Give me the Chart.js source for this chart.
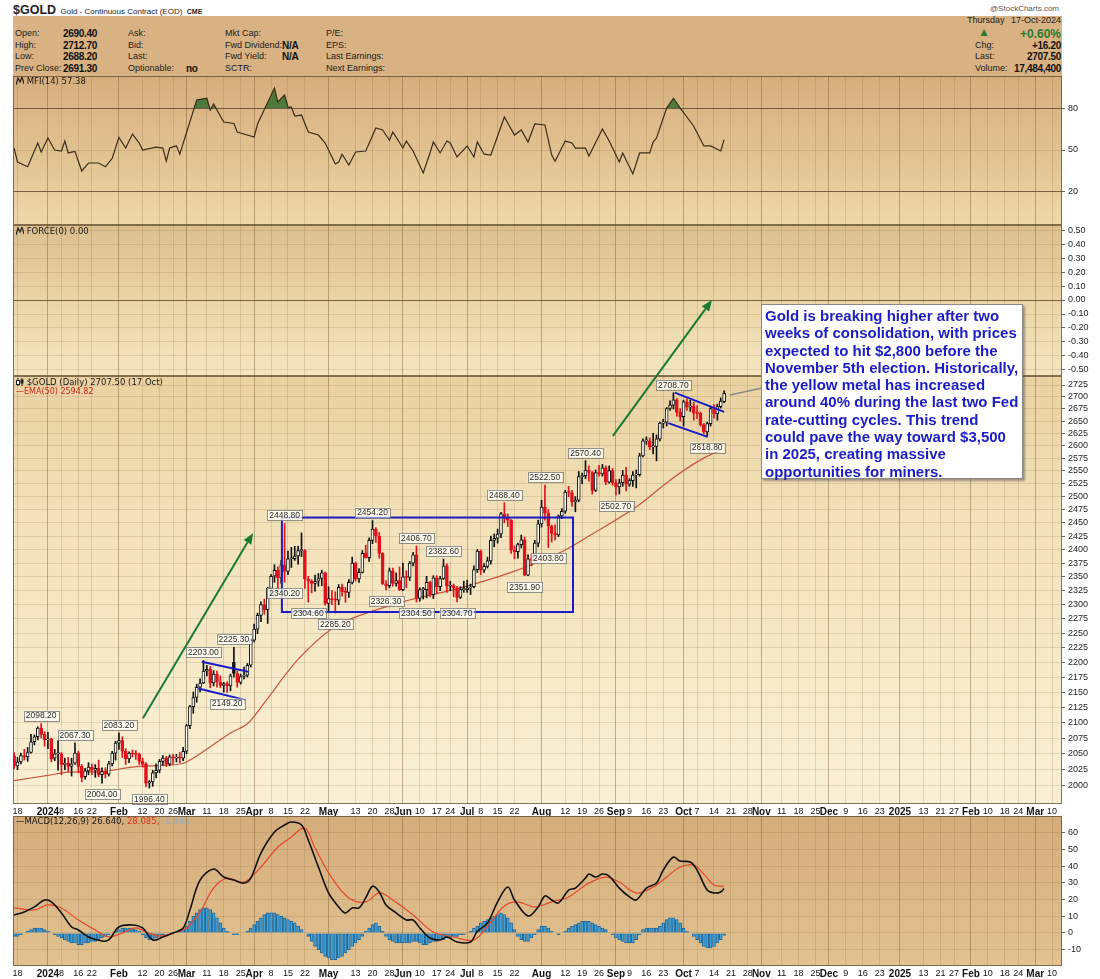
<!DOCTYPE html>
<html>
<head>
<meta charset="utf-8">
<title>$GOLD Daily</title>
<script src="https://cdn.jsdelivr.net/npm/chart.js@4.4.1/dist/chart.umd.min.js"></script>
<style>
  html,body{margin:0;padding:0;background:#fff;}
  body{position:relative;width:1100px;height:979px;overflow:hidden;font-family:Arial,"Liberation Sans",sans-serif;color:#222;}
  canvas{position:absolute;left:0;}
  .t{position:absolute;white-space:nowrap;line-height:11px;z-index:3;}
  .hl{font-size:9px;color:#222;}
  .hv{font-size:10px;font-weight:bold;color:#111;letter-spacing:-0.3px;}
  .pl{font-family:"DejaVu Sans",Verdana,sans-serif;font-size:8.5px;color:#1a1a1a;}
  #hdr{position:absolute;left:13px;top:16px;width:1049px;height:60px;background:#d8b283;}
  #note{position:absolute;left:761px;top:304px;width:254px;height:169px;padding:2px 3px;background:#fff;border:1px solid #888;
        box-shadow:2px 2px 2px rgba(60,60,60,.45);font:bold 15px Arial,"Liberation Sans",sans-serif;line-height:17.3px;color:#1c1cc4;z-index:5;white-space:nowrap;}
</style>
</head>
<body>

<!-- title + header block -->
<div class="t" style="left:13px;top:2px;line-height:13px;"><span style="font:bold 12.5px Arial;">$GOLD</span> <span style="font-size:8px;">Gold - Continuous Contract (EOD)</span> <span style="font:bold 7px Arial;">CME</span></div>
<div class="t" style="left:990px;top:3px;font-size:8px;color:#555;">@StockCharts.com</div>
<div id="hdr"></div>
<div class="t hl" style="left:15px;top:28px;">Open:</div><div class="t hv" style="left:63px;top:28px;">2690.40</div>
<div class="t hl" style="left:15px;top:40px;">High:</div><div class="t hv" style="left:63px;top:40px;">2712.70</div>
<div class="t hl" style="left:15px;top:51px;">Low:</div><div class="t hv" style="left:63px;top:51px;">2688.20</div>
<div class="t hl" style="left:15px;top:63px;">Prev Close:</div><div class="t hv" style="left:63px;top:63px;">2691.30</div>
<div class="t hl" style="left:128px;top:28px;">Ask:</div>
<div class="t hl" style="left:128px;top:40px;">Bid:</div>
<div class="t hl" style="left:128px;top:51px;">Last:</div>
<div class="t hl" style="left:128px;top:63px;">Optionable:</div><div class="t hv" style="left:186px;top:63px;">no</div>
<div class="t hl" style="left:225px;top:28px;">Mkt Cap:</div>
<div class="t hl" style="left:225px;top:40px;">Fwd Dividend:</div><div class="t hv" style="left:282px;top:40px;">N/A</div>
<div class="t hl" style="left:225px;top:51px;">Fwd Yield:</div><div class="t hv" style="left:282px;top:51px;">N/A</div>
<div class="t hl" style="left:225px;top:63px;">SCTR:</div>
<div class="t hl" style="left:326px;top:28px;">P/E:</div>
<div class="t hl" style="left:326px;top:40px;">EPS:</div>
<div class="t hl" style="left:326px;top:51px;">Last Earnings:</div>
<div class="t hl" style="left:326px;top:63px;">Next Earnings:</div>
<div class="t hl" style="left:967px;top:15px;">Thursday</div><div class="t hl" style="right:39px;top:15px;">17-Oct-2024</div>
<div class="t" style="left:978px;top:27px;font-size:12px;color:#2f7a2f;">&#9650;</div>
<div class="t" style="right:39px;top:27px;font:bold 12px Arial;color:#2f7a2f;">+0.60%</div>
<div class="t hl" style="left:975px;top:40px;">Chg:</div><div class="t hv" style="right:39px;top:40px;">+16.20</div>
<div class="t hl" style="left:975px;top:51px;">Last:</div><div class="t hv" style="right:39px;top:51px;">2707.50</div>
<div class="t hl" style="left:975px;top:63px;">Volume:</div><div class="t hv" style="right:39px;top:63px;">17,484,400</div>

<!-- panel legends -->
<div class="t pl" style="left:16px;top:76px;"><svg width="8" height="8" style="vertical-align:-1px"><polyline points="0,8 2,1 4,5 6,0 8,7" fill="none" stroke="#222" stroke-width="1.2"/></svg> MFI(14) 57.38</div>
<div class="t pl" style="left:16px;top:226px;"><svg width="8" height="8" style="vertical-align:-1px"><polyline points="0,8 2,1 4,5 6,0 8,7" fill="none" stroke="#222" stroke-width="1.2"/></svg> FORCE(0) 0.00</div>
<div class="t pl" style="left:16px;top:377px;"><svg width="8" height="8" style="vertical-align:-1px"><line x1="2" y1="0" x2="2" y2="8" stroke="#222"/><rect x="0.5" y="2.5" width="3" height="4" fill="#fff" stroke="#222"/><line x1="6" y1="0" x2="6" y2="8" stroke="#222"/><rect x="4.5" y="1.5" width="3" height="4" fill="#222"/></svg> $GOLD (Daily) 2707.50 (17 Oct)</div>
<div class="t pl" style="left:16px;top:386px;color:#c8281e;font-size:8px;">&#8212;EMA(50) 2594.82</div>
<div class="t pl" style="left:16px;top:816px;">&#8212;MACD(12,26,9) 26.640, <span style="color:#d8321e;">28.085,</span> <span style="color:#8fb0bf;">-1.445</span></div>

<div id="note">Gold is breaking higher after two<br>weeks of consolidation, with prices<br>expected to hit $2,800 before the<br>November 5th election. Historically,<br>the yellow metal has increased<br>around 40% during the last two Fed<br>rate-cutting cycles. This trend<br>could pave the way toward $3,500<br>in 2025, creating massive<br>opportunities for miners.</div>

<canvas id="cMfi" width="1100" height="149" style="top:76px;z-index:1;"></canvas>
<canvas id="cForce" width="1100" height="151" style="top:225px;z-index:1;"></canvas>
<canvas id="cPrice" width="1100" height="591" style="top:225px;z-index:2;"></canvas>
<canvas id="cMacd" width="1100" height="163" style="top:816px;z-index:1;"></canvas>

<script>
// ═══════════════ 数据 ═══════════════
// trading calendar: weekdays from 15 Dec 2023 to 14 Mar 2025, minus these closures
var holidays = ['2023-12-25','2024-01-01','2024-01-15','2024-02-19','2024-03-29','2024-05-27','2024-06-19',
  '2024-07-04','2024-09-02','2024-11-28','2024-12-25','2025-01-01','2025-01-20','2025-02-17'];

// x-axis labels (date of the tick, text)
var tickDates = ['2023-12-18','2024-01-02','2024-01-08','2024-01-16','2024-01-22','2024-02-01','2024-02-12','2024-02-20','2024-02-26',
  '2024-03-01','2024-03-11','2024-03-18','2024-03-25','2024-04-01','2024-04-08','2024-04-15','2024-04-22','2024-05-01','2024-05-13',
  '2024-05-20','2024-05-28','2024-06-03','2024-06-10','2024-06-17','2024-06-24','2024-07-01','2024-07-08','2024-07-15','2024-07-22',
  '2024-08-01','2024-08-12','2024-08-19','2024-08-26','2024-09-03','2024-09-09','2024-09-16','2024-09-23','2024-10-01','2024-10-07',
  '2024-10-14','2024-10-21','2024-10-28','2024-11-01','2024-11-11','2024-11-18','2024-11-25','2024-12-02','2024-12-09','2024-12-16',
  '2024-12-23','2025-01-02','2025-01-13','2025-01-21','2025-01-27','2025-02-03','2025-02-10','2025-02-18','2025-02-24','2025-03-03','2025-03-10'];
var tickText = ['18','2024','8','16','22','Feb','12','20','26','Mar','11','18','25','Apr','8','15','22','May','13','20','28',
  'Jun','10','17','24','Jul','8','15','22','Aug','12','19','26','Sep','9','16','23','Oct','7','14','21','28','Nov','11','18','25',
  'Dec','9','16','23','2025','13','21','27','Feb','10','18','24','Mar','10'];

// right-axis ticks
var priceTicks = [2000,2025,2050,2075,2100,2125,2150,2175,2200,2225,2250,2275,2300,2325,2350,2375,2400,2425,2450,2475,2500,2525,2550,2575,2600,2625,2650,2675,2700,2725];
var mfiTicks = [20,50,80];
var forceTicks = [-0.5,-0.4,-0.3,-0.2,-0.1,0,0.1,0.2,0.3,0.4,0.5];
var macdTicks = [-10,0,10,20,30,40,50,60];

// daily [open, high, low, close], day 0 = 15 Dec 2023, last = 17 Oct 2024
var ohlc = [
  [2047,2052,2027,2031],[2031,2044,2025,2037],[2037,2051,2034,2047],[2047,2057,2040,2045],[2045,2060,2038,2052],
  [2052,2081,2051,2069],[2069,2080,2064,2077],[2077,2093,2072,2091],[2091,2098.2,2075,2081],[2081,2085,2062,2072],
  // Jan
  [2072,2084,2058,2073],[2073,2075,2037,2042],[2043,2057,2039,2050],[2050,2071,2024,2050],[2050,2052,2017,2033],
  [2033,2043,2025,2035],[2035,2044,2022,2030],[2030,2043,2015,2034],[2035,2067.3,2033,2051],[2051,2054,2020,2030],
  [2030,2033,2006,2013],[2014,2027,2010,2023],[2023,2036,2017,2029],[2029,2034,2017,2024],[2024,2033,2013,2027],
  [2027,2040,2014,2017],[2017,2028,2004,2022],[2022,2028,2012,2018],[2018,2038,2015,2034],[2034,2054,2031,2051],
  [2051,2070,2040,2067],
  // Feb
  [2067,2083.2,2057,2071],[2071,2077,2044,2054],[2054,2058,2033,2042],[2042,2053,2036,2051],[2051,2056,2045,2050],
  [2050,2055,2041,2049],[2049,2051,2033,2038],[2038,2043,2029,2033],[2034,2036,1998,2004],[2004,2008,1996.4,2006],
  [2006,2024,1999,2020],[2020,2034,2012,2024],[2024,2041,2020,2038],[2038,2047,2032,2043],[2043,2046,2030,2034],
  [2034,2048,2031,2045],[2045,2049,2034,2043],[2043,2049,2037,2044],[2044,2052,2036,2043],[2043,2060,2039,2054],
  // Mar
  [2054,2097,2050,2095],[2095,2128,2090,2126],[2126,2150,2115,2141],[2141,2163,2133,2158],[2158,2172,2150,2165],
  [2165,2203,2164,2185],[2185,2195,2177,2188],[2188,2193,2157,2165],[2165,2186,2160,2180],[2180,2185,2158,2167],
  [2167,2177,2157,2161],[2161,2166,2150,2164],[2164,2167,2149.2,2160],[2160,2180,2152,2177],[2200,2225.3,2175,2181],
  [2181,2185,2158,2166],[2166,2180,2163,2176],[2176,2192,2172,2178],[2178,2198,2175,2195],[2195,2240,2192,2238],
  // Apr
  [2238,2266,2235,2257],[2257,2285,2249,2281],[2281,2305,2270,2300],[2300,2310,2283,2291],[2291,2331,2267,2329],
  [2329,2354,2317,2351],[2351,2372,2340,2362],[2362,2368,2323,2348],[2348,2380,2338,2372],[2372,2448.8,2340.2,2360],
  [2360,2397,2354,2383],[2383,2404,2367,2383],[2383,2406,2380,2388],[2388,2406,2373,2398],[2398,2431,2387,2398],
  [2398,2400,2329,2346],[2346,2351,2304.6,2342],[2342,2345,2321,2338],[2338,2353,2324,2342],[2342,2356,2333,2347],
  [2347,2362,2334,2357],[2357,2359,2299,2302],
  // May
  [2302,2332,2286,2311],[2311,2325,2300,2309],[2309,2323,2285.2,2308],[2308,2336,2300,2331],[2331,2337,2315,2323],
  [2323,2331,2304,2322],[2322,2345,2313,2340],[2340,2386,2337,2375],[2375,2377,2342,2346],[2346,2365,2340,2358],
  [2358,2398,2357,2393],[2393,2408,2384,2385],[2385,2422,2378,2417],[2417,2454.2,2411,2438],[2438,2441,2413,2425],
  [2425,2432,2384,2393],[2393,2394,2336,2337],[2337,2343,2326.3,2334],[2334,2366,2330,2361],[2361,2366,2333,2338],
  [2338,2357,2333,2343],[2343,2368,2325,2327],
  // Jun
  [2327,2375,2325,2350],[2350,2361,2330,2349],[2349,2378,2343,2375],[2375,2395,2370,2390],[2390,2406.7,2304.5,2311],
  [2311,2330,2306,2327],[2327,2331,2310,2327],[2327,2351,2312,2340],[2340,2342,2314,2318],[2318,2352,2311,2348],
  [2348,2352,2320,2332],[2332,2351,2325,2347],[2347,2382.6,2345,2370],[2370,2374,2322,2333],[2333,2342,2325,2334],
  [2334,2337,2314,2330],[2330,2333,2304.7,2313],[2313,2332,2311,2327],[2327,2342,2322,2327],
  // Jul
  [2327,2344,2322,2330],[2330,2337,2318,2332],[2332,2370,2330,2363],[2363,2400,2358,2397],[2397,2399,2354,2362],
  [2362,2374,2358,2369],[2369,2386,2366,2379],[2379,2425,2373,2417],[2417,2429,2405,2421],[2421,2438,2412,2429],
  [2429,2470,2422,2467],[2467,2488.4,2450,2459],[2459,2467,2443,2455],[2455,2456,2393,2399],[2399,2407,2383,2396],
  [2396,2412,2384,2409],[2409,2427,2403,2418],[2418,2423,2351.9,2353],[2353,2390,2352,2383],[2383,2390,2370,2380],
  [2380,2417,2379,2412],[2412,2455,2405,2448],
  // Aug
  [2448,2493,2442,2480],[2480,2522.5,2455,2469],[2469,2475,2403.8,2444],[2444,2446,2414,2430],[2430,2446,2418,2427],
  [2427,2465,2424,2463],[2463,2477,2458,2472],[2472,2512,2468,2509],[2509,2520,2500,2508],[2508,2512,2481,2490],
  [2490,2500,2471,2493],[2493,2549,2490,2539],[2539,2546,2525,2541],[2541,2570.4,2535,2552],[2552,2560,2530,2547],
  [2547,2549,2505,2512],[2512,2552,2510,2547],[2547,2561,2540,2544],[2544,2563,2540,2556],[2556,2560,2523,2528],
  [2528,2560,2526,2551],[2551,2555,2522,2527],
  // Sep
  [2527,2533,2502.7,2519],[2519,2534,2505,2527],[2527,2551,2520,2542],[2542,2557,2511,2524],[2524,2535,2520,2531],
  [2531,2549,2520,2542],[2542,2552,2517,2543],[2543,2585,2540,2580],[2580,2614,2578,2610],[2610,2618,2603,2610],
  [2610,2616,2592,2598],[2598,2625,2584,2599],[2599,2622,2570,2614],[2614,2648,2610,2646],[2646,2654,2636,2648],
  [2648,2678,2640,2676],[2676,2692,2672,2683],[2683,2708.7,2675,2694],[2694,2697,2660,2668],[2668,2676,2650,2659],
  // Oct
  [2659,2693,2640,2690],[2690,2696,2672,2679],[2679,2693,2670,2681],[2681,2689,2652,2667],[2667,2682,2655,2666],
  [2666,2669,2640,2643],[2643,2645,2624,2628],[2628,2648,2618.8,2645],[2645,2681,2640,2676],[2676,2684,2656,2665],
  [2665,2685,2652,2680],[2680,2698,2677,2691.3],[2690.4,2712.7,2688.2,2707.5]
];

// EMA(50), read at these day numbers
var emaDay = [0,10,16,26,35,45,50,55,64,69,74,84,96,115,132,147,162,170,184,194,203,210];
var emaVal = [2008,2016,2021,2022,2029,2032,2035,2050,2083,2098,2132,2205,2265,2305,2330,2358,2396,2425,2480,2532,2572,2594.82];

// MFI(14)
var mfiDay = [0,1,4,7,8,10,12,14,15,16,18,20,22,25,27,29,31,33,35,37,38,42,44,45,46,48,49,54,57,58,59,62,65,66,71,72,77,78,80,81,
  82,83,85,87,90,92,95,96,97,99,101,104,107,109,111,112,115,116,118,121,123,124,126,128,129,131,134,136,137,139,141,145,148,150,152,
  154,157,159,160,163,165,166,169,170,174,176,179,180,183,185,188,189,190,193,195,197,199,201,204,206,209,210];
var mfiVal = [51.4,41.4,38,55,48.6,58.6,50,49.3,56.4,47.9,49,35,40.7,40.7,38,44,59,51.4,61.4,55,50,52,51.4,42,51.4,53,47,85.7,87,78.6,
  82.9,70,69,62.9,59.3,68.6,94.3,84.3,89.3,80.7,80.7,74.3,75,62.9,60.7,55,40,41.4,47,39.3,48.6,49.3,65.7,64.3,57,62.9,51.4,56.4,49.3,33.6,
  47.9,55.7,47.9,56.4,55,45,52.9,45,55.7,47,46.4,73.6,60.7,64.3,55.7,68.6,67.9,46.4,42,56.4,55,51.4,51.4,45.7,65,56.4,41.4,47.9,32.9,47.9,
  47.9,55.7,58.6,80,87,80,73.6,67,52.9,52.9,49.3,57.38];

// MACD(12,26,9) line and signal
var macdDay = [0,3,6,9,11,14,17,19,22,26,28,31,35,38,41,44,47,50,52,55,59,62,65,68,70,73,77,80,82,85,87,90,93,96,98,100,102,104,106,108,
  110,113,116,118,120,123,126,128,131,135,137,140,143,146,148,152,155,157,159,161,164,166,169,170,172,174,176,179,182,184,187,190,192,195,
  197,200,202,205,207,209,210];
var macdVal = [10.8,12.6,15.6,19.8,18.6,12,3.6,1.8,-2.4,-4.8,-4.2,3.6,4.8,3,-4.2,-2.4,0,3,13.8,31.7,38.3,33.5,31.7,29.9,32.9,47.9,60.5,
  64.7,66.5,64.7,55.7,39.5,24,15.6,12,15,15,21,28,24.6,16.8,12,7.8,7.8,3,-3,-4.2,-2.4,-5.4,-5.4,1,6,18.6,27.5,19.8,10.2,15.6,22.2,19.8,18,
  25.7,26.9,32.9,35.3,33.5,35.3,34.1,26.9,21.6,19.8,26.9,29.9,37.7,45.5,43.1,42.5,37.7,25.7,24,24.6,26.64];
var sigDay = [0,6,10,14,19,24,28,32,36,39,43,47,51,55,59,63,68,73,78,82,86,89,94,99,104,108,112,118,124,130,136,141,145,149,154,159,
  164,170,175,179,184,189,193,197,201,204,207,210];
var sigVal = [15,13.8,16.8,15,7.8,1.8,-2.4,0,3,0.6,-1.8,0,3,12.6,26.9,32.9,30.5,39.5,51.5,57.5,62.9,50.9,32.9,21,18.6,24,19.8,10.8,0.6,
  -2.4,-4.2,6.6,16.2,18.6,15.6,18.6,21.6,29.9,33.5,30.5,24,27.5,33.5,39.5,40.7,35.3,28.7,28.085];
// histogram, one bar a day
var histVal = [
  -2,-2,-1,0,1,2,3,3,3,2,1,0,-1,
  -2,-3,-4,-5,-6,-6,-7,-7,-6,-6,-5,-5,-4,-3,-2,
  -1,0,1,2,3,3,3,3,2,1,
  -1,-3,-4,-4,-3,-2,-1,
  0,0,0,0,1,2,
  4,7,10,12,14,15,15,14,12,9,6,3,
  1,0,-1,-1,0,0,1,
  3,5,7,9,11,12,12,12,11,10,9,8,7,6,4,
  2,0,
  -2,-5,-8,-10,-12,-14,-15,-16,-16,-15,-14,-12,-10,-8,-6,-4,-2,
  1,3,5,6,4,
  1,-2,-4,-5,-6,-6,-6,-6,-6,-5,-5,-6,-7,-7,-6,-5,-5,-4,-4,-3,-3,-2,-2,-1,-1,
  0,1,3,4,6,7,8,9,10,11,12,11,9,6,2,
  -2,-4,-5,-5,-3,-1,
  2,4,4,3,1,
  0,-1,0,1,
  3,4,5,6,7,7,7,6,5,4,3,2,
  0,-1,-3,-4,-5,-6,-6,-6,-4,-1,2,3,3,3,3,4,6,8,9,9,8,6,3,1,0,
  -2,-4,-6,-8,-9,-9,-8,-6,-4,-1.445
];

// price annotations: day, value, a = above the high, b = below the low
var noteDay = [8,18,26,31,40,56,63,65,80,80,87,95,106,110,119,119,127,131,145,151,157,158,169,178,195,205];
var noteVal = [2098.2,2067.3,2004.0,2083.2,1996.4,2203.0,2149.2,2225.3,2448.8,2340.2,2304.6,2285.2,2454.2,2326.3,2406.7,2304.5,
  2382.6,2304.7,2488.4,2351.9,2522.5,2403.8,2570.4,2502.7,2708.7,2618.8];
var noteSide = ['a','a','b','a','b','a','b','a','a','b','b','b','a','b','a','b','a','b','a','b','a','b','a','b','a','b'];

// drawn objects in (day, price): range box, flag lines, trend arrows, callout
var boxDay = [79.2,165.3], boxVal = [2460,2287];
var flagLines = [[55.5,2201,69.3,2184],[54.5,2156,68.3,2137],[195.4,2709,210.0,2669],[193.5,2646,205.1,2618]];
var arrows = [[38.1,2107,70.7,2431],[177.1,2620,206.4,2910]];
var callout = [211.7,2704,220.9,2718];

// ═══════════════ 渲染 ═══════════════
var days = [];
for (var t = Date.UTC(2023,11,15); t <= Date.UTC(2025,2,14); t += 864e5) {
  var d = new Date(t), wd = d.getUTCDay(), s = d.toISOString().slice(0,10);
  if (wd > 0 && wd < 6 && holidays.indexOf(s) < 0) days.push(s);
}
var tickIdx = tickDates.map(function(s){ return days.indexOf(s); });
var X_MIN = -0.33, X_MAX = 309.93;
function isMajor(t){ return isNaN(+t) || t.length === 4; }
function pts(xs, ys){ return xs.map(function(x,i){ return {x:x, y:ys[i]}; }); }

Chart.defaults.font.family = 'Arial, "Liberation Sans", sans-serif';

// gradient panel background + border
var panelBg = {
  id:'panelBg',
  beforeDraw:function(ch, a, o){
    var ca = ch.chartArea, c = ch.ctx;
    var g = c.createLinearGradient(0, ca.top, 0, ca.bottom);
    o.stops.forEach(function(st){ g.addColorStop(st[0], st[1]); });
    c.save(); c.fillStyle = g; c.fillRect(ca.left, ca.top, ca.right-ca.left, ca.bottom-ca.top); c.restore();
  },
  afterDraw:function(ch){
    var ca = ch.chartArea, c = ch.ctx;
    c.save(); c.strokeStyle = 'rgba(95,75,45,0.75)'; c.lineWidth = 1;
    c.strokeRect(Math.round(ca.left)+0.5, Math.round(ca.top)+0.5, Math.round(ca.right-ca.left)-1, Math.round(ca.bottom-ca.top)-1);
    c.restore();
  }
};

function xAxis(showLabels, h){
  return {
    type:'linear', min:X_MIN, max:X_MAX, offset:false,
    afterBuildTicks:function(sc){ sc.ticks = tickIdx.map(function(v){ return {value:v}; }); },
    afterFit:function(sc){ sc.height = h; sc.paddingLeft = 0; sc.paddingRight = 0; },
    ticks:{display:showLabels, autoSkip:false, maxRotation:0, minRotation:0, padding:2, color:'#111',
      callback:function(v,i){ return tickText[i]; },
      font:function(c){ var m = isMajor(tickText[c.index]||''); return {family:'Arial', size:m?10:9, weight:m?'bold':'normal'}; }},
    grid:{offset:false, drawTicks:false, lineWidth:1,
      color:function(c){ return isMajor(tickText[c.index]||'') ? 'rgba(110,80,40,0.40)' : 'rgba(120,90,50,0.18)'; }},
    border:{display:false}
  };
}
function yAxis(o){
  return {
    type:o.type||'linear', position:'right', min:o.min, max:o.max,
    afterBuildTicks:function(sc){ sc.ticks = o.ticks.map(function(v){ return {value:v}; }); },
    afterFit:function(sc){ sc.width = 38; sc.paddingTop = 0; sc.paddingBottom = 0; },
    ticks:{autoSkip:false, padding:3, color:'#222', font:{family:'Arial', size:9}, callback:o.fmt},
    grid:{drawTicks:true, tickLength:3, tickColor:'#666', lineWidth:1, color:o.grid},
    border:{display:false}
  };
}
function baseOpts(pad, xs, ys, bg){
  return {
    responsive:false, animation:false, devicePixelRatio:1,
    layout:{padding:{left:13, right:0, top:pad, bottom:0}},
    plugins:{legend:{display:false}, tooltip:{enabled:false}, panelBg:{stops:bg}},
    scales:{x:xs, y:ys}
  };
}
var lightGrid = 'rgba(120,90,50,0.16)';

// --- MFI
new Chart(document.getElementById('cMfi'), {
  type:'line',
  data:{datasets:[{data:pts(mfiDay, mfiVal), borderColor:'#3a2e1c', borderWidth:1.2, pointRadius:0, tension:0,
    fill:{target:{value:80}, above:'#4d7a3a', below:'rgba(0,0,0,0)'}}]},
  options:baseOpts(0, xAxis(false,0),
    yAxis({min:-3.6, max:102.9, ticks:mfiTicks, fmt:function(v){ return v; },
      grid:function(c){ return c.tick && c.tick.value !== 50 ? 'rgba(100,75,45,0.85)' : lightGrid; }}),
    [[0,'#d6ae7e'],[0.55,'#e2c392'],[1,'#eed9ab']]),
  plugins:[panelBg]
});

// --- FORCE (empty indicator)
new Chart(document.getElementById('cForce'), {
  type:'line',
  data:{datasets:[]},
  options:baseOpts(0, xAxis(false,0),
    yAxis({min:-0.543, max:0.536, ticks:forceTicks, fmt:function(v){ return v.toFixed(2); },
      grid:function(c){ return c.tick && c.tick.value === 0 ? 'rgba(100,75,45,0.85)' : lightGrid; }}),
    [[0,'#ddbf8e'],[0.6,'#ecd9ac'],[1,'#f3e6bf']]),
  plugins:[panelBg]
});

// --- price
function edgeColor(k){ var prev = k ? ohlc[k-1][3] : ohlc[k][0]; return ohlc[k][3] < prev ? '#e0121c' : '#111111'; }
var edgeCol = ohlc.map(function(r,k){ return edgeColor(k); });
var fillCol = ohlc.map(function(r,k){ return r[3] >= r[0] ? '#fffff6' : edgeCol[k]; });
var bodyData = ohlc.map(function(r,k){ return {x:k, y:[Math.min(r[0],r[3]), Math.max(r[0],r[3])]}; });
var wickData = ohlc.map(function(r,k){ return {x:k, y:[r[2], r[1]]}; });

var priceNotes = {
  id:'priceNotes',
  afterDatasetsDraw:function(ch){
    var c = ch.ctx, xs = ch.scales.x, ys = ch.scales.y;
    function px(k){ return xs.getPixelForValue(k); }
    function py(v){ return ys.getPixelForValue(v); }
    c.save();
    // range box
    c.strokeStyle = '#1b1bc8'; c.lineWidth = 2;
    c.strokeRect(px(boxDay[0]), py(boxVal[0]), px(boxDay[1])-px(boxDay[0]), py(boxVal[1])-py(boxVal[0]));
    // flags
    flagLines.forEach(function(l){
      c.beginPath(); c.moveTo(px(l[0]), py(l[1])); c.lineTo(px(l[2]), py(l[3])); c.stroke();
    });
    // arrows
    c.strokeStyle = '#1d7a32'; c.fillStyle = '#1d7a32'; c.lineWidth = 2;
    arrows.forEach(function(a){
      var x1 = px(a[0]), y1 = py(a[1]), x2 = px(a[2]), y2 = py(a[3]);
      var ang = Math.atan2(y2-y1, x2-x1), hl = 11, hw = 4.5;
      var bx = x2 - hl*Math.cos(ang), by = y2 - hl*Math.sin(ang);
      c.beginPath(); c.moveTo(x1, y1); c.lineTo(bx, by); c.stroke();
      c.beginPath(); c.moveTo(x2, y2);
      c.lineTo(bx + hw*Math.sin(ang), by - hw*Math.cos(ang));
      c.lineTo(bx - hw*Math.sin(ang), by + hw*Math.cos(ang));
      c.closePath(); c.fill();
    });
    // callout line to the note
    c.strokeStyle = '#8a8a8a'; c.lineWidth = 1.5;
    c.beginPath(); c.moveTo(px(callout[0]), py(callout[1])); c.lineTo(px(callout[2]), py(callout[3])); c.stroke();
    // value labels
    c.font = '8.5px Arial'; c.textAlign = 'center'; c.textBaseline = 'middle'; c.lineWidth = 1;
    noteDay.forEach(function(k, i){
      var txt = noteVal[i].toFixed(2), w = c.measureText(txt).width + 4, h = 10;
      var x = px(k), y = py(noteVal[i]) + (noteSide[i] === 'a' ? -8 : 11);
      c.fillStyle = 'rgba(255,255,248,0.82)'; c.fillRect(x - w/2, y - h/2, w, h);
      c.strokeStyle = 'rgba(120,120,120,0.8)'; c.strokeRect(Math.round(x - w/2)+0.5, Math.round(y - h/2)+0.5, Math.round(w), h);
      c.fillStyle = '#2a2a2a'; c.fillText(txt, x, y + 0.5);
    });
    c.restore();
  }
};

new Chart(document.getElementById('cPrice'), {
  type:'bar',
  data:{datasets:[
    {type:'bar', data:bodyData, backgroundColor:fillCol, borderColor:edgeCol, borderWidth:1, borderSkipped:false,
      barThickness:3, grouped:false, minBarLength:1},
    {type:'bar', data:wickData, backgroundColor:edgeCol, borderWidth:0, barThickness:1, grouped:false},
    {type:'line', data:pts(emaDay, emaVal), borderColor:'#c8553f', borderWidth:1.2, pointRadius:0, tension:0.3}
  ]},
  options:baseOpts(151, xAxis(true,12),
    yAxis({type:'logarithmic', min:1972, max:2744, ticks:priceTicks, fmt:function(v){ return String(v); }, grid:lightGrid}),
    [[0,'#e9d1a1'],[0.35,'#f2e2ba'],[1,'#f9f0d4']]),
  plugins:[panelBg, priceNotes]
});

// --- MACD
new Chart(document.getElementById('cMacd'), {
  type:'bar',
  data:{datasets:[
    {type:'line', data:pts(macdDay, macdVal), borderColor:'#111', borderWidth:1.6, pointRadius:0, tension:0.35},
    {type:'line', data:pts(sigDay, sigVal), borderColor:'#e5472a', borderWidth:1.2, pointRadius:0, tension:0.35},
    {type:'bar', data:histVal.map(function(v,k){ return {x:k, y:v}; }), backgroundColor:'#41a0d6', borderColor:'#24699a',
      borderWidth:1, barThickness:3, grouped:false}
  ]},
  options:baseOpts(0, xAxis(true,13),
    yAxis({min:-19.8, max:70.1, ticks:macdTicks, fmt:function(v){ return v; }, grid:lightGrid}),
    [[0,'#d4ac7c'],[1,'#e1c290']]),
  plugins:[panelBg]
});
</script>
</body>
</html>
